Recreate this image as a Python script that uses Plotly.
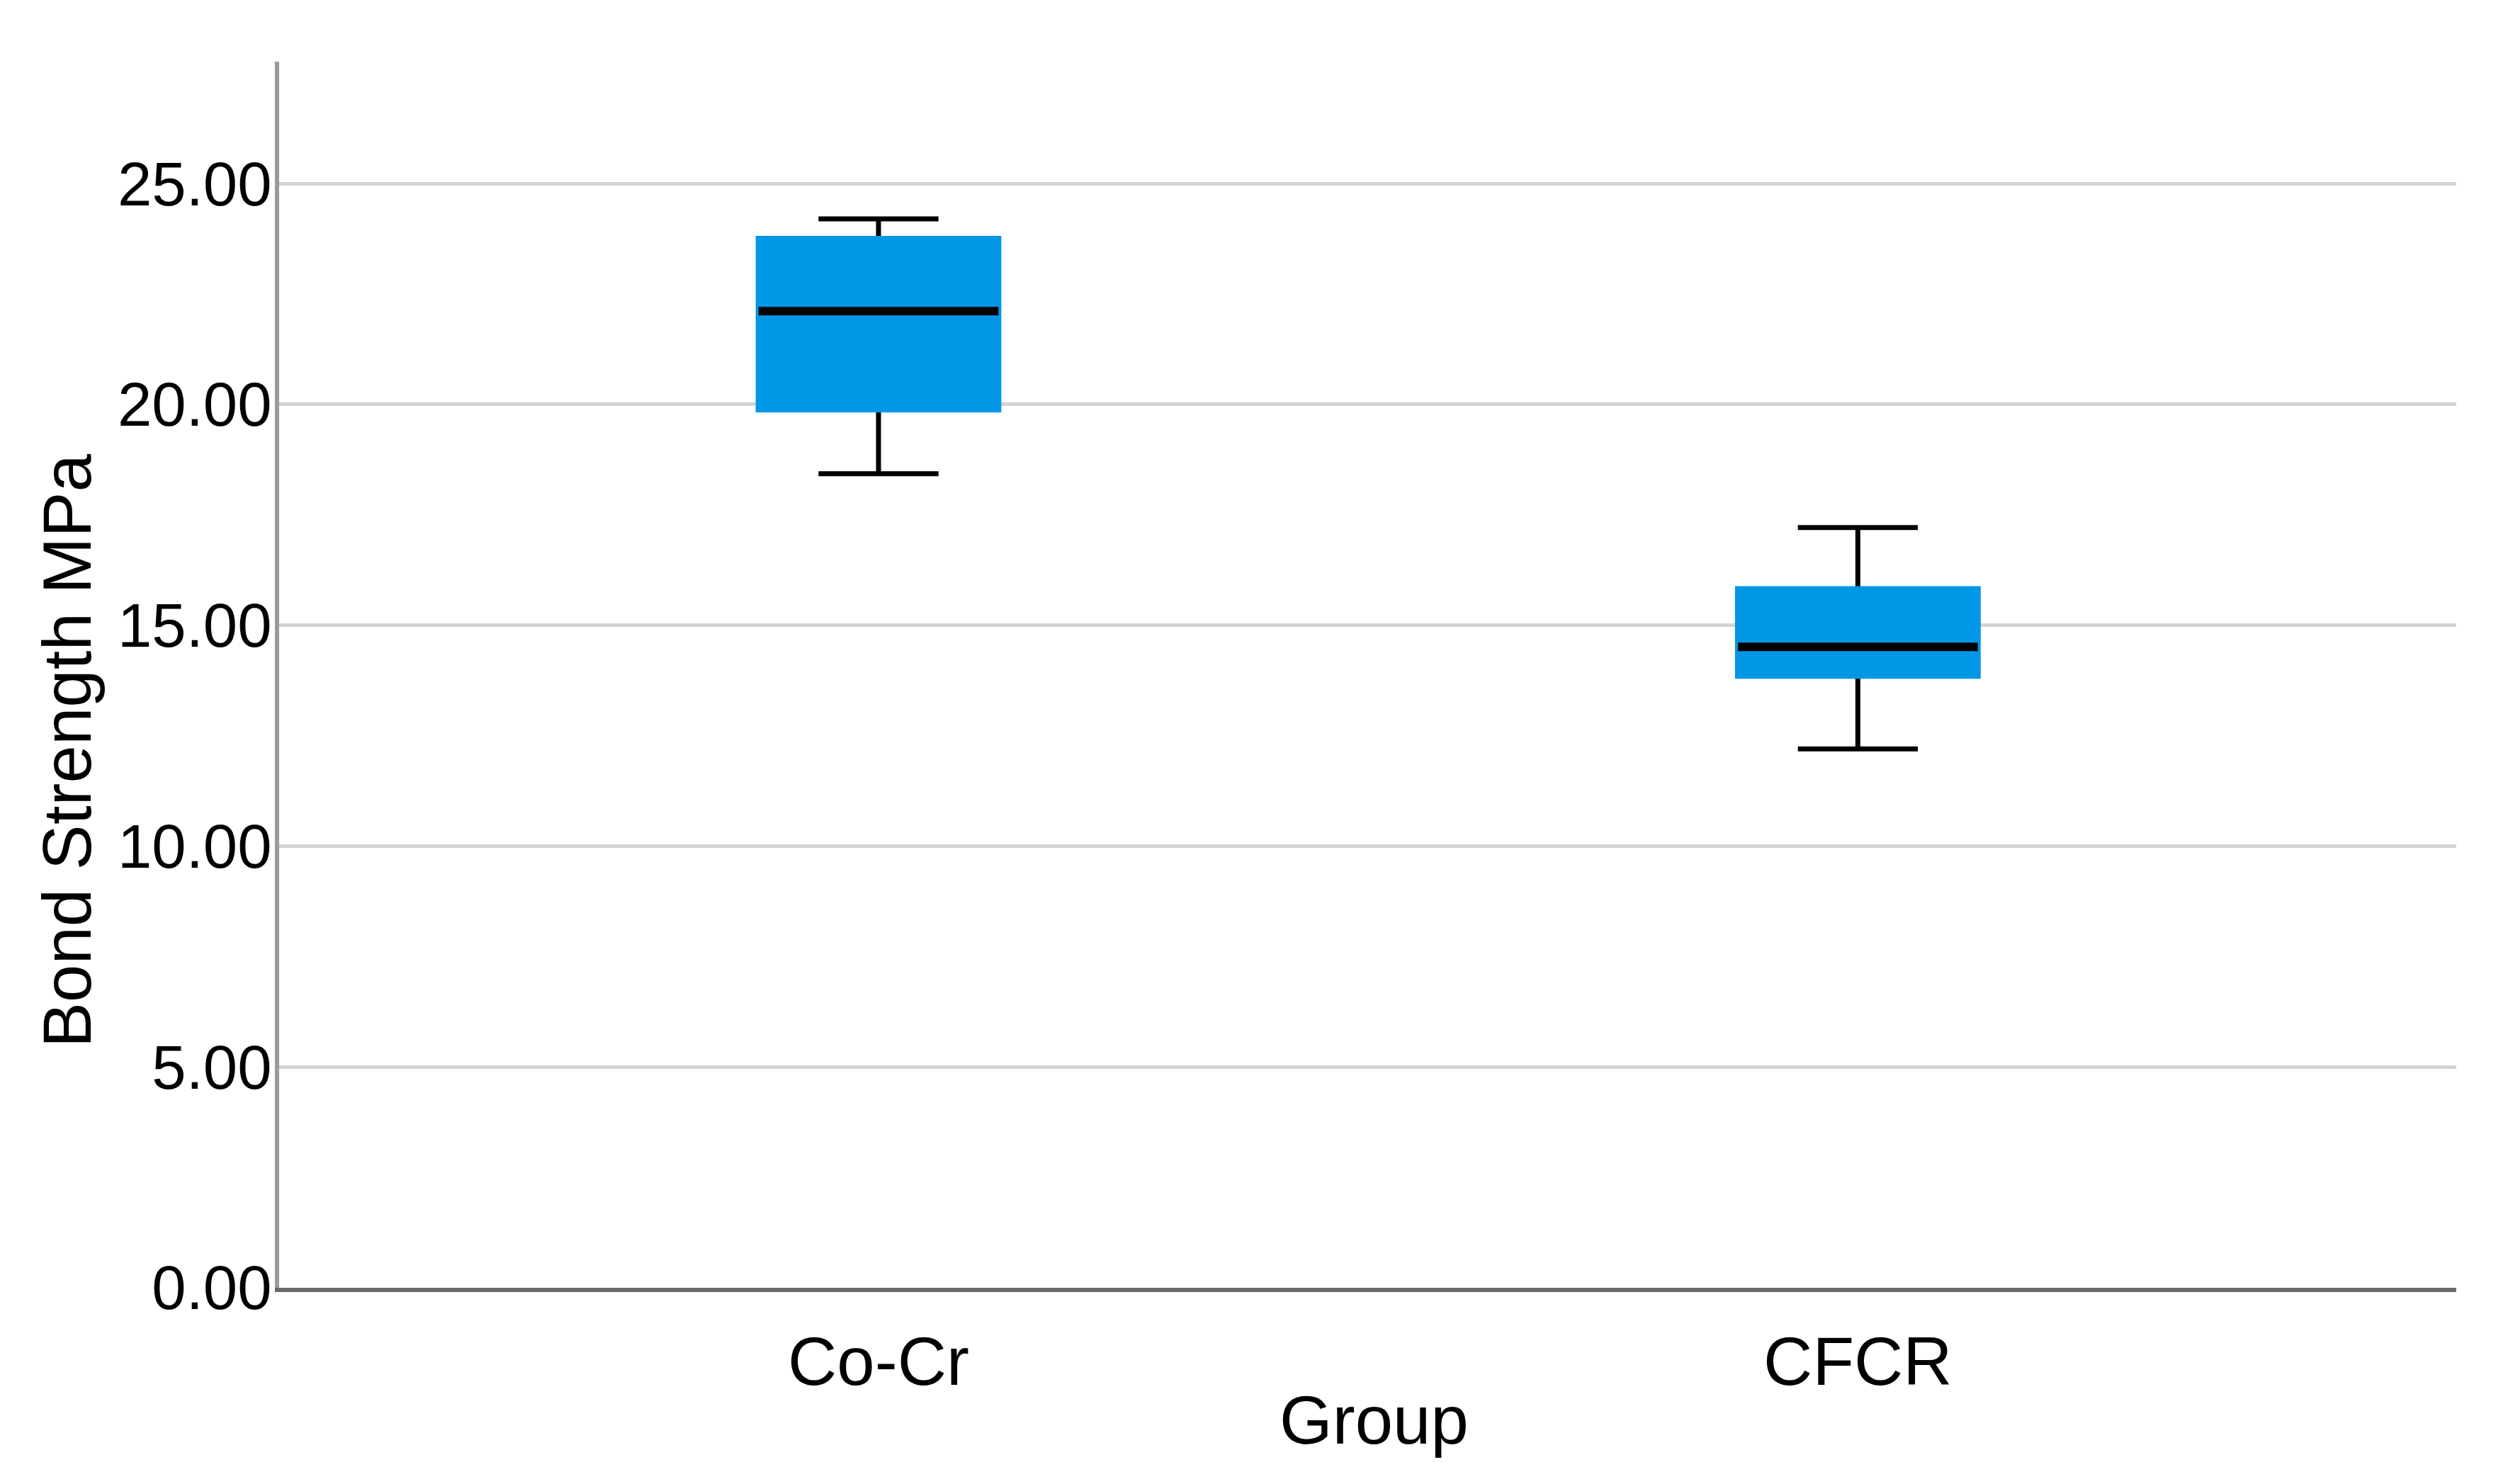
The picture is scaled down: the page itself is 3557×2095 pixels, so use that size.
import plotly.graph_objects as go

# ---- data ----
groups = ["Co-Cr", "CFCR"]
q1 = [19.88, 13.85]
median = [22.11, 14.51]
q3 = [23.75, 15.82]
lower_whisker = [18.43, 12.20]
upper_whisker = [24.20, 17.21]
y_ticks = [0, 5, 10, 15, 20, 25]
y_tick_labels = ["0.00", "5.00", "10.00", "15.00", "20.00", "25.00"]

BLUE = "#0097E6"
FONT = "Liberation Sans, Arial, sans-serif"
W, H = 3557, 2095
ML, MR, MT, MB = 394, 90, 87, 277

fig = go.Figure()

# full box: whiskers in black
fig.add_trace(go.Box(
    x=groups, q1=q1, median=median, q3=q3,
    lowerfence=lower_whisker, upperfence=upper_whisker,
    fillcolor=BLUE, line=dict(color="black", width=7),
    whiskerwidth=0.5, width=0.245, boxpoints=False,
    hoverinfo="skip", showlegend=False,
))
# box body: blue outline covering black outline
fig.add_trace(go.Box(
    x=groups, q1=q1, median=median, q3=q3,
    lowerfence=q1, upperfence=q3,
    fillcolor=BLUE, line=dict(color=BLUE, width=8),
    whiskerwidth=0, width=0.245, boxpoints=False,
    hoverinfo="skip", showlegend=False,
))
# median line
fig.add_trace(go.Box(
    x=groups, q1=median, median=median, q3=median,
    lowerfence=median, upperfence=median,
    fillcolor="black", line=dict(color="black", width=12),
    whiskerwidth=0, width=0.245, boxpoints=False,
    hoverinfo="skip", showlegend=False,
))

fig.update_layout(
    width=W, height=H,
    margin=dict(l=ML, r=MR, t=MT, b=MB, pad=0),
    paper_bgcolor="white", plot_bgcolor="white",
    font=dict(family=FONT, color="black"),
    boxmode="overlay",
    showlegend=False,
)

fig.update_xaxes(
    type="category", range=[-0.612, 1.611],
    showgrid=False, zeroline=False,
    showline=True, linecolor="#6a6a6a", linewidth=6,
    ticks="", tickfont=dict(size=96, family=FONT, color="black"),
    ticklabelstandoff=16,
    fixedrange=True,
)
fig.update_yaxes(
    range=[0, 27.76],
    tickvals=y_ticks, ticktext=y_tick_labels,
    showgrid=True, gridcolor="#d3d3d3", gridwidth=5,
    zeroline=False,
    showline=True, linecolor="#9a9a9a", linewidth=6,
    ticks="", tickfont=dict(size=87, family=FONT, color="black"),
    ticklabelstandoff=-13,
    fixedrange=True,
)

fig.add_annotation(
    text="Bond Strength MPa", textangle=-90,
    xref="paper", yref="paper",
    x=(94 - ML) / (W - ML - MR), y=(H - MB - 1060) / (H - MT - MB),
    xanchor="center", yanchor="middle", showarrow=False,
    font=dict(size=96, family=FONT, color="black"),
)
fig.add_annotation(
    text="Group",
    xref="paper", yref="paper",
    x=(1939 - ML) / (W - ML - MR), y=(H - MB - 2004) / (H - MT - MB),
    xanchor="center", yanchor="middle", showarrow=False,
    font=dict(size=96, family=FONT, color="black"),
)

fig.write_html("out.html", config={"displayModeBar": False},
               post_script="document.body.style.margin='0';document.body.style.overflow='hidden';")
